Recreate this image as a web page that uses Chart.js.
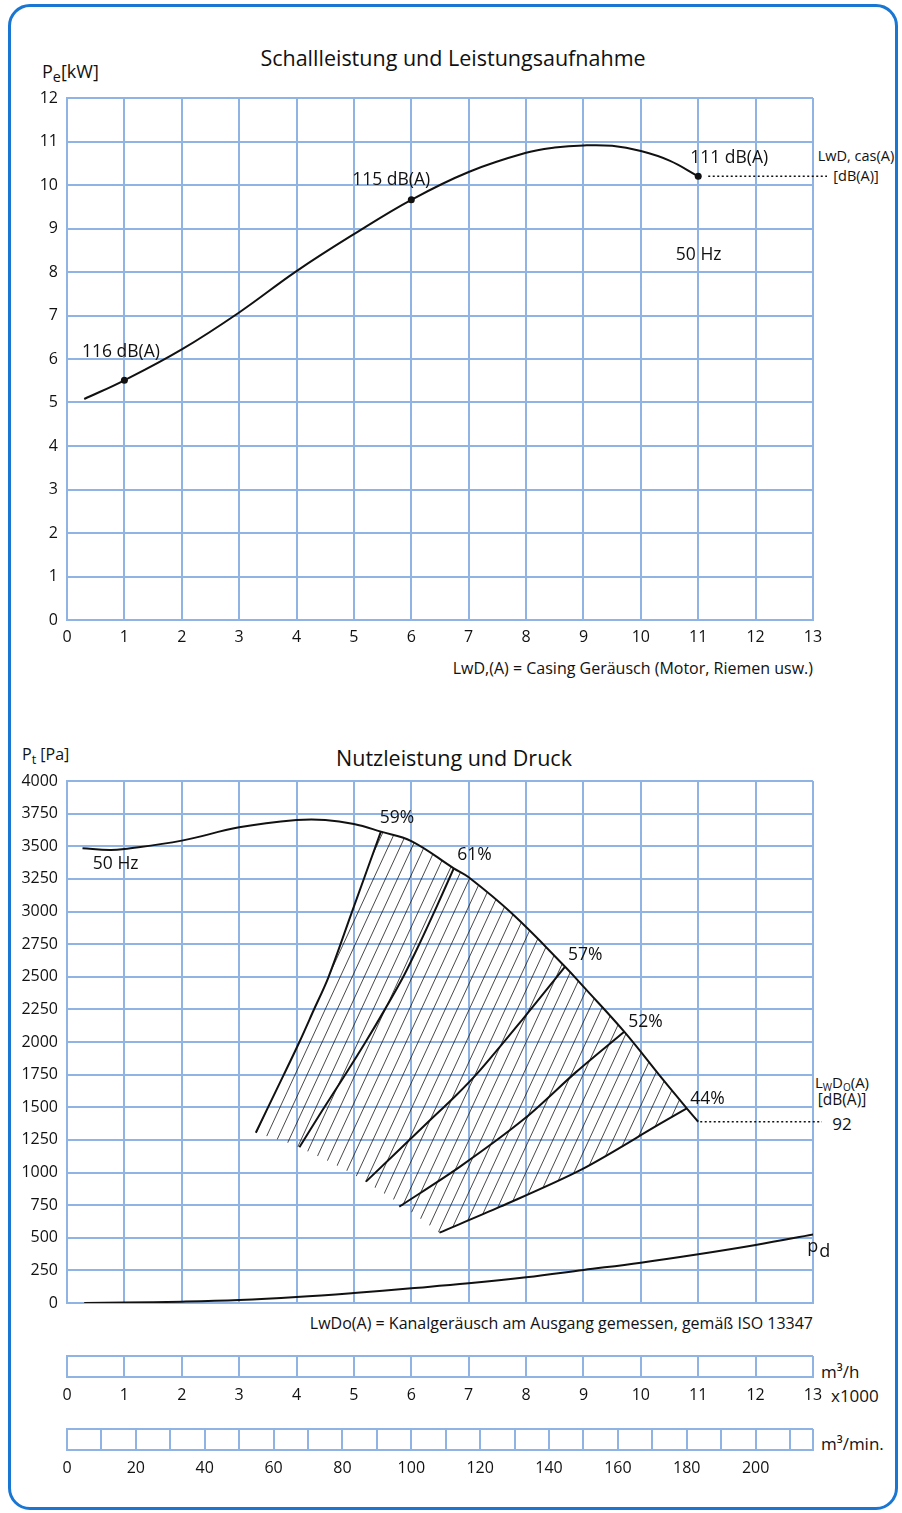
<!DOCTYPE html>
<html>
<head>
<meta charset="utf-8">
<script src="https://cdn.jsdelivr.net/npm/chart.js@4.4.1/dist/chart.umd.min.js"></script>
<style>
  html, body { margin: 0; padding: 0; background: #fff; }
  body { width: 902px; height: 1513px; position: relative; overflow: hidden; font-family: "Open Sans", sans-serif; color: #111; }
  .frame { position: absolute; left: 8px; top: 4px; width: 890px; height: 1506px; box-sizing: border-box; border: 3px solid #1976d2; border-radius: 22px; }
  canvas { position: absolute; left: 0; }
  .t { position: absolute; white-space: nowrap; line-height: 1; transform: translateY(-50%); }
  .c { transform: translate(-50%, -50%); }
  .r { transform: translate(-100%, -50%); }
  sub { font-size: 0.8em; vertical-align: -0.3em; line-height: 0; }
</style>
</head>
<body>
<div class="frame"></div>

<div class="t c" style="left:453px;top:58px;font-size:21.5px">Schallleistung und Leistungsaufnahme</div>
<div class="t" style="left:42px;top:71px;font-size:18px">P<sub>e</sub>[kW]</div>
<div class="t c" style="left:856px;top:156px;font-size:14.5px">LwD, cas(A)</div>
<div class="t c" style="left:856px;top:176px;font-size:14.5px">[dB(A)]</div>
<div class="t r" style="left:813px;top:668px;font-size:16px">LwD,(A) = Casing Geräusch (Motor, Riemen usw.)</div>

<div class="t c" style="left:454px;top:758px;font-size:21.5px">Nutzleistung und Druck</div>
<div class="t" style="left:22px;top:754px;font-size:16px">P<sub>t</sub> [Pa]</div>
<div class="t c" style="left:842px;top:1082px;font-size:15px">L<sub style="font-size:10px">W</sub>D<sub style="font-size:10px">O</sub>(A)</div>
<div class="t c" style="left:842px;top:1100px;font-size:15.5px">[dB(A)]</div>
<div class="t c" style="left:842px;top:1123px;font-size:17px">92</div>
<div class="t r" style="left:813px;top:1323px;font-size:16px">LwDo(A) = Kanalgeräusch am Ausgang gemessen, gemäß ISO 13347</div>

<div class="t" style="left:821px;top:1371px;font-size:17px">m³/h</div>
<div class="t" style="left:831px;top:1395px;font-size:17px">x1000</div>
<div class="t" style="left:821px;top:1443px;font-size:17px">m³/min.</div>

<canvas id="power" width="902" height="700" style="top:0"></canvas>
<canvas id="pressure" width="902" height="650" style="top:700px"></canvas>
<canvas id="flowH" width="902" height="72" style="top:1340px"></canvas>
<canvas id="flowMin" width="902" height="72" style="top:1414px"></canvas>

<script>
// Volumenstrom in 1000 m³/h, Leistungsaufnahme in kW
const powerFlow = [0.3, 1, 2, 3, 4, 5, 6, 7, 8, 8.5, 9, 9.5, 10, 10.5, 11];
const powerKW   = [5.08, 5.51, 6.22, 7.07, 8.02, 8.87, 9.66, 10.3, 10.74, 10.86, 10.91, 10.9, 10.78, 10.56, 10.2];

// Schallleistung an drei Betriebspunkten
const soundFlow   = [1, 6, 11];
const soundKW     = [5.51, 9.66, 10.2];
const soundLabels = ['116 dB(A)', '115 dB(A)', '111 dB(A)'];

// Druckkennlinie pt [Pa]
const pressFlow = [0.27, 0.75, 1, 2, 3, 4, 4.5, 5, 5.47, 6, 6.74, 7, 7.75, 8.68, 9, 9.71, 10.39, 10.8, 11];
const pressPa   = [3484, 3471, 3479, 3543, 3645, 3701, 3702, 3670, 3612, 3540, 3331, 3262, 2986, 2577, 2424, 2079, 1709, 1492, 1389];

// dynamischer Druck pd
const dynFlow = [0.3, 1, 2, 3, 4, 5, 6, 7, 8, 9, 10, 11, 12, 13.05];
const dynPa   = [0, 3, 10, 23, 46, 77, 113, 151, 197, 253, 309, 373, 444, 529];

// Wirkungsgradlinien
const effLabels = ['59%', '61%', '57%', '52%', '44%'];
const eff59Flow = [3.29, 3.77, 4.05, 4.3, 4.55, 4.96, 5.47];
const eff59Pa   = [1305, 1742, 2000, 2245, 2490, 2990, 3612];
const eff61Flow = [4.05, 4.44, 4.82, 5.19, 5.54, 5.86, 6.15, 6.45, 6.74];
const eff61Pa   = [1193, 1470, 1730, 1990, 2250, 2500, 2760, 3045, 3331];
const eff57Flow = [5.21, 6.27, 6.8, 7.2, 7.95, 8.68];
const eff57Pa   = [930, 1377, 1600, 1785, 2180, 2577];
const eff52Flow = [5.79, 6.85, 7.98, 8.88, 9.71];
const eff52Pa   = [738, 1045, 1415, 1773, 2079];
const eff44Flow = [6.49, 7.55, 8.97, 10.33, 10.8];
const eff44Pa   = [539, 738, 1024, 1372, 1492];

// untere Kante der Schraffur (von 44% zurück zu 59%)
const hatchEdgeFlow = [6.08, 5.66, 5.02, 4.58, 3.92];
const hatchEdgePa   = [672, 802, 978, 1083, 1218];

// Achsen
const flowTicks   = [0, 1, 2, 3, 4, 5, 6, 7, 8, 9, 10, 11, 12, 13];
const minuteGrid  = [0, 10, 20, 30, 40, 50, 60, 70, 80, 90, 100, 110, 120, 130, 140, 150, 160, 170, 180, 190, 200, 210, 216.67];
const minuteLabels = [0, 20, 40, 60, 80, 100, 120, 140, 160, 180, 200];

const GRID = '#8fb4e3';
const INK = '#111';
const FONT = '"Open Sans", sans-serif';

Chart.defaults.font.family = FONT;
Chart.defaults.font.size = 16;
Chart.defaults.color = INK;
Chart.defaults.animation = false;
Chart.defaults.responsive = false;
Chart.defaults.plugins.legend.display = false;
Chart.defaults.plugins.tooltip.enabled = false;

const xy = (xs, ys) => xs.map((x, i) => ({x, y: ys[i]}));

function hatchPattern() {
  const w = 12, h = 26;
  const c = document.createElement('canvas');
  c.width = w; c.height = h;
  const g = c.getContext('2d');
  g.strokeStyle = '#1a1a1a';
  g.lineWidth = 0.8;
  g.beginPath();
  for (const dx of [-w, 0, w]) { g.moveTo(dx, h); g.lineTo(dx + w, 0); }
  g.stroke();
  return g.createPattern(c, 'repeat');
}

// texts & dotted leaders placed in data units
const notes = {
  id: 'notes',
  afterDatasetsDraw(chart, args, opts) {
    const {ctx, scales: {x, y}} = chart;
    ctx.save();
    ctx.fillStyle = INK;
    ctx.strokeStyle = INK;
    ctx.textBaseline = 'middle';
    ctx.textAlign = 'left';
    (opts.items || []).forEach(n => {
      ctx.font = (n.size || 17.5) + 'px ' + FONT;
      const px = x.getPixelForValue(n.x), py = y.getPixelForValue(n.y);
      ctx.fillText(n.text, px, py);
      if (n.sub) ctx.fillText(n.sub, px + ctx.measureText(n.text).width + 1, py + 5);
    });
    (opts.leaders || []).forEach(l => {
      const px = x.getPixelForValue(l.x), py = y.getPixelForValue(l.y);
      ctx.setLineDash([2, 2.5]);
      ctx.lineWidth = 1.5;
      ctx.beginPath();
      ctx.moveTo(px + l.gap, py);
      ctx.lineTo(l.to, py);
      ctx.stroke();
    });
    ctx.restore();
  }
};

const gridOpts = {color: GRID, lineWidth: 2, drawTicks: false};
const borderOpts = {color: GRID, width: 2};

function flowAxis(showTicks) {
  return {
    type: 'linear', min: 0, max: 13,
    grid: gridOpts, border: borderOpts,
    afterBuildTicks: s => { s.ticks = flowTicks.map(v => ({value: v})); },
    ticks: {display: showTicks, padding: 8, autoSkip: false, maxRotation: 0, callback: v => String(v)},
    afterFit: s => { s.height = 30; }
  };
}

function valueAxis(max, step) {
  return {
    min: 0, max,
    grid: gridOpts, border: borderOpts,
    ticks: {stepSize: step, padding: 9, maxTicksLimit: 100, autoSkip: false, callback: v => String(v)},
    afterFit: s => { s.width = 67; }
  };
}

const curve = (data, tension) => ({
  data, borderColor: INK, borderWidth: 2, pointRadius: 0,
  tension: tension, fill: false
});

// oberes Diagramm
new Chart(document.getElementById('power'), {
  type: 'line',
  data: {
    datasets: [
      {data: xy(soundFlow, soundKW), showLine: false, pointRadius: 3.5, pointBackgroundColor: INK, pointBorderWidth: 0},
      curve(xy(powerFlow, powerKW), 0.4)
    ]
  },
  options: {
    layout: {padding: {left: 0, right: 89, top: 98, bottom: 50}},
    scales: {x: flowAxis(true), y: valueAxis(12, 1)},
    plugins: {
      notes: {
        items: [
          {text: soundLabels[0], x: 0.26, y: 6.16},
          {text: soundLabels[1], x: 4.97, y: 10.11},
          {text: soundLabels[2], x: 10.86, y: 10.62},
          {text: '50 Hz', x: 10.61, y: 8.39}
        ],
        leaders: [{x: soundFlow[2], y: soundKW[2], gap: 10, to: 827}]
      }
    }
  },
  plugins: [notes]
});

// unteres Diagramm
const hatchShape = [].concat(
  xy(eff59Flow, eff59Pa),
  xy(pressFlow, pressPa).filter(p => p.x > 5.47 && p.x < 10.8),
  xy(eff44Flow, eff44Pa).reverse(),
  xy(hatchEdgeFlow, hatchEdgePa)
);

new Chart(document.getElementById('pressure'), {
  type: 'line',
  data: {
    datasets: [
      curve(xy(pressFlow, pressPa), 0.4),
      curve(xy(dynFlow, dynPa), 0.4),
      curve(xy(eff59Flow, eff59Pa), 0.3),
      curve(xy(eff61Flow, eff61Pa), 0.3),
      curve(xy(eff57Flow, eff57Pa), 0.3),
      curve(xy(eff52Flow, eff52Pa), 0.3),
      curve(xy(eff44Flow, eff44Pa), 0.3),
      {data: hatchShape, borderWidth: 0, pointRadius: 0, tension: 0,
       backgroundColor: hatchPattern(), fill: 'shape'}
    ]
  },
  options: {
    layout: {padding: {left: 0, right: 89, top: 81, bottom: 17}},
    scales: {x: flowAxis(false), y: valueAxis(4000, 250)},
    plugins: {
      notes: {
        items: [
          {text: '50 Hz', x: 0.45, y: 3364},
          {text: effLabels[0], x: 5.45, y: 3716},
          {text: effLabels[1], x: 6.80, y: 3433},
          {text: effLabels[2], x: 8.73, y: 2667},
          {text: effLabels[3], x: 9.78, y: 2153},
          {text: effLabels[4], x: 10.86, y: 1563},
          {text: 'p', sub: 'd', x: 12.9, y: 430, size: 18}
        ],
        leaders: [{x: pressFlow[pressFlow.length - 1], y: pressPa[pressPa.length - 1], gap: 2, to: 822}]
      }
    }
  },
  plugins: [notes]
});

// Volumenstrom-Skalen
function stripChart(id, max, grid, labels, pad) {
  return new Chart(document.getElementById(id), {
    type: 'line',
    data: {datasets: [{data: []}]},
    options: {
      layout: {padding: {left: 0, right: 89, top: pad[0], bottom: pad[1]}},
      scales: {
        x: {
          type: 'linear', min: 0, max,
          grid: gridOpts, border: borderOpts,
          afterBuildTicks: s => { s.ticks = grid.map(v => ({value: v})); },
          ticks: {padding: 9, autoSkip: false, maxRotation: 0,
                  callback: v => labels.includes(v) ? String(v) : ''},
          afterFit: s => { s.height = 30; }
        },
        y: {
          min: 0, max: 1,
          grid: gridOpts, border: borderOpts,
          ticks: {display: false, stepSize: 1},
          afterFit: s => { s.width = 67; }
        }
      }
    }
  });
}

stripChart('flowH', 13, flowTicks, flowTicks, [16, 5]);
stripChart('flowMin', 216.67, minuteGrid, minuteLabels, [15, 6]);
</script>
</body>
</html>
